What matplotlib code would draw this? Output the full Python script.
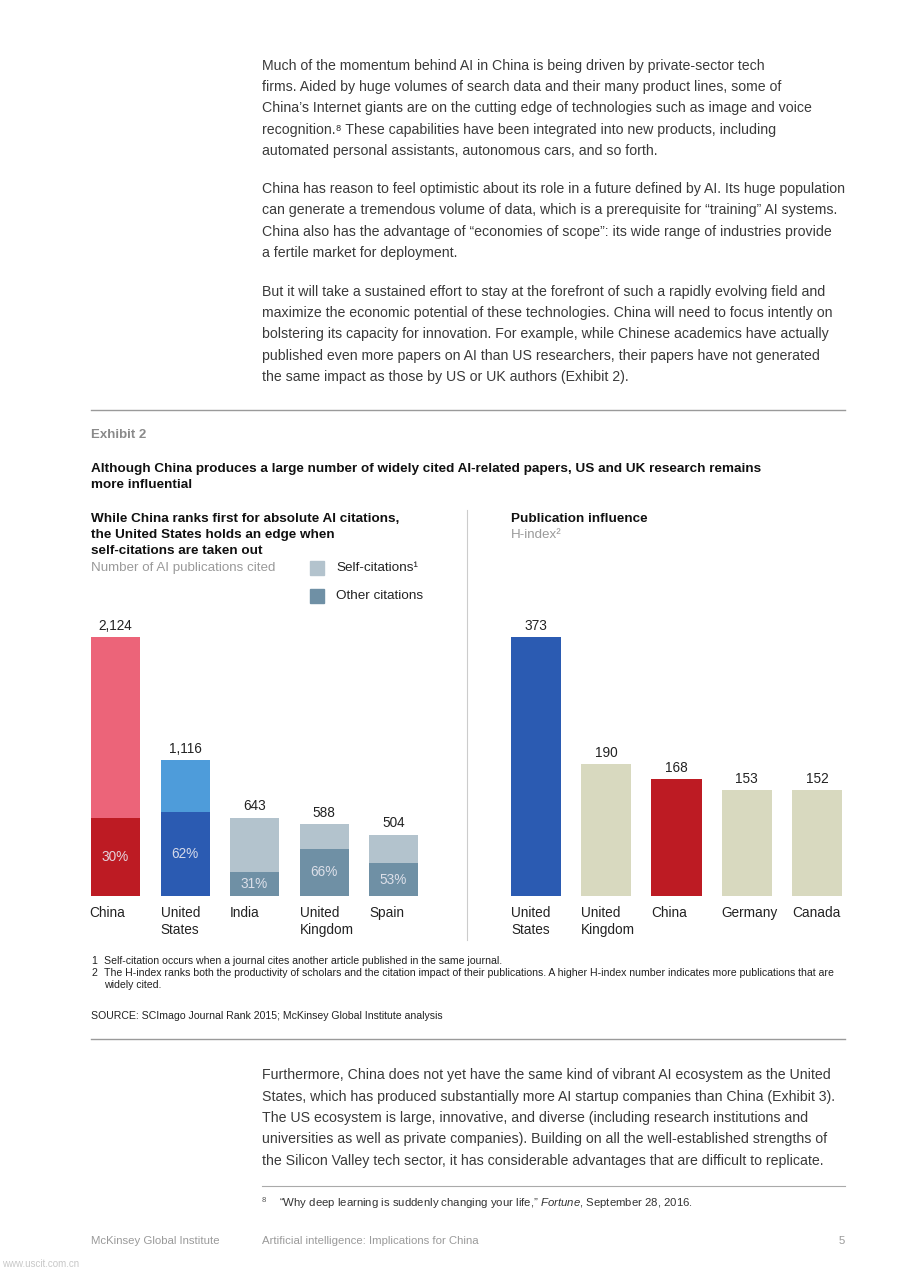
import matplotlib.pyplot as plt

plt.rcParams['font.family'] = ['Liberation Sans', 'DejaVu Sans']
plt.rcParams['mathtext.fontset'] = 'custom'
plt.rcParams['mathtext.rm'] = 'Liberation Sans'
plt.rcParams['mathtext.it'] = 'Liberation Sans:italic'

# exhibit data
cit_countries = ['China', 'United\nStates', 'India', 'United\nKingdom', 'Spain']
cit_totals = [2124, 1116, 643, 588, 504]
other_pct = [30, 62, 31, 66, 53]   # share of "other citations" in each bar

hidx_countries = ['United\nStates', 'United\nKingdom', 'China', 'Germany', 'Canada']
hidx_values = [373, 190, 168, 153, 152]

cit_light = ['#EC6479', '#4E9CDA', '#B3C3CD', '#B3C3CD', '#B3C3CD']
cit_dark = ['#BD1B23', '#2B5BB2', '#6F90A5', '#6F90A5', '#6F90A5']
hidx_colors = ['#2B5BB2', '#D8D9BF', '#BD1B23', '#D8D9BF', '#D8D9BF']

W, H = 905, 1280
fig = plt.figure(figsize=(W / 100, H / 100), dpi=100)

BODY = 10.2
BOLD = 9.7


def px(x, y):
    return x / W, 1 - y / H


def txt(x, y, s, **kw):
    kw.setdefault('va', 'center')
    kw.setdefault('fontsize', BODY)
    kw.setdefault('color', '#3a3a3a')
    fig.text(*px(x, y), s, **kw)


def hline(x0, x1, y, color='#9a9a9a', lw=1.0):
    fig.add_artist(plt.Line2D([x0 / W, x1 / W], [1 - y / H, 1 - y / H],
                              color=color, lw=lw, transform=fig.transFigure))


# body text above
para = [
    (66, 'Much of the momentum behind AI in China is being driven by private-sector tech'),
    (87, 'firms. Aided by huge volumes of search data and their many product lines, some of'),
    (108, 'China\u2019s Internet giants are on the cutting edge of technologies such as image and voice'),
    (130, 'recognition.\u2078 These capabilities have been integrated into new products, including'),
    (151, 'automated personal assistants, autonomous cars, and so forth.'),
    (189, 'China has reason to feel optimistic about its role in a future defined by AI. Its huge population'),
    (210, 'can generate a tremendous volume of data, which is a prerequisite for \u201ctraining\u201d AI systems.'),
    (232, 'China also has the advantage of \u201ceconomies of scope\u201d: its wide range of industries provide'),
    (253, 'a fertile market for deployment.'),
    (292, 'But it will take a sustained effort to stay at the forefront of such a rapidly evolving field and'),
    (313, 'maximize the economic potential of these technologies. China will need to focus intently on'),
    (334, 'bolstering its capacity for innovation. For example, while Chinese academics have actually'),
    (356, 'published even more papers on AI than US researchers, their papers have not generated'),
    (377, 'the same impact as those by US or UK authors (Exhibit 2).'),
]
for y, s in para:
    txt(262, y, s)

hline(91, 845, 410)
txt(91, 435, 'Exhibit 2', fontsize=9.5, color='#8a8a8a', fontweight='bold')
txt(91, 469, 'Although China produces a large number of widely cited AI-related papers, US and UK research remains',
    fontsize=BOLD, color='#111111', fontweight='bold')
txt(91, 485, 'more influential', fontsize=BOLD, color='#111111', fontweight='bold')

txt(91, 519, 'While China ranks first for absolute AI citations,', fontsize=BOLD, color='#111111', fontweight='bold')
txt(91, 535, 'the United States holds an edge when', fontsize=BOLD, color='#111111', fontweight='bold')
txt(91, 551, 'self-citations are taken out', fontsize=BOLD, color='#111111', fontweight='bold')
txt(91, 568, 'Number of AI publications cited', fontsize=9.6, color='#9a9a9a')

txt(511, 519, 'Publication influence', fontsize=BOLD, color='#111111', fontweight='bold')
txt(511, 535, 'H-index\u00b2', fontsize=9.6, color='#9a9a9a')

# legend
fig.patches.append(plt.Rectangle(px(310, 575), 14 / W, 14 / H, color=cit_light[2], transform=fig.transFigure))
fig.patches.append(plt.Rectangle(px(310, 603), 14 / W, 14 / H, color=cit_dark[2], transform=fig.transFigure))
txt(336, 568, 'Self-citations\u00b9', fontsize=9.7, color='#222222')
txt(336, 596, 'Other citations', fontsize=9.7, color='#222222')

# divider
fig.add_artist(plt.Line2D([467 / W, 467 / W], [1 - 510 / H, 1 - 940 / H],
                          color='#cccccc', lw=0.8, transform=fig.transFigure))

# left chart: citations
bw1 = 49 / 69.5
ax1 = fig.add_axes([91 / W, 1 - 896 / H, 327 / W, 259 / H])
x1 = list(range(len(cit_totals)))
dark_vals = [t * p / 100 for t, p in zip(cit_totals, other_pct)]
light_vals = [t - d for t, d in zip(cit_totals, dark_vals)]
ax1.bar(x1, dark_vals, width=bw1, color=cit_dark)
ax1.bar(x1, light_vals, width=bw1, bottom=dark_vals, color=cit_light)
ax1.set_xlim(-bw1 / 2, 4 + bw1 / 2)
ax1.set_ylim(0, 2124)
for i, (t, d, p) in enumerate(zip(cit_totals, dark_vals, other_pct)):
    ax1.annotate(f'{t:,}', (i, t), xytext=(0, 3), textcoords='offset points',
                 ha='center', va='bottom', fontsize=9.8, color='#222222', annotation_clip=False)
    ax1.text(i, d / 2, f'{p}%', ha='center', va='center', fontsize=9.8, color='#e8e8f0', alpha=0.9)
    ax1.annotate(cit_countries[i], (i - bw1 / 2, 0), xytext=(-1 if i == 0 else 0, -7.5),
                 textcoords='offset points', ha='left', va='top', fontsize=9.8,
                 color='#222222', linespacing=1.25, annotation_clip=False)

# right chart: H-index
bw2 = 50 / 70
ax2 = fig.add_axes([511 / W, 1 - 896 / H, 331 / W, 259 / H])
x2 = list(range(len(hidx_values)))
ax2.bar(x2, hidx_values, width=bw2, color=hidx_colors)
ax2.set_xlim(-bw2 / 2, 4 + bw2 / 2)
ax2.set_ylim(0, 373)
for i, v in enumerate(hidx_values):
    ax2.annotate(str(v), (i, v), xytext=(0, 3), textcoords='offset points',
                 ha='center', va='bottom', fontsize=9.8, color='#222222', annotation_clip=False)
    ax2.annotate(hidx_countries[i], (i - bw2 / 2, 0), xytext=(0, -7.5),
                 textcoords='offset points', ha='left', va='top', fontsize=9.8,
                 color='#222222', linespacing=1.25, annotation_clip=False)

for ax in (ax1, ax2):
    ax.axis('off')

# notes
NOTE = 7.6
txt(91, 961, '1', fontsize=NOTE, color='#222222')
txt(104, 961, 'Self-citation occurs when a journal cites another article published in the same journal.',
    fontsize=NOTE, color='#222222')
txt(91, 973, '2', fontsize=NOTE, color='#222222')
txt(104, 973, 'The H-index ranks both the productivity of scholars and the citation impact of their publications. '
    'A higher H-index number indicates more publications that are', fontsize=NOTE, color='#222222')
txt(104, 985, 'widely cited.', fontsize=NOTE, color='#222222')
txt(91, 1016, 'SOURCE: SCImago Journal Rank 2015; McKinsey Global Institute analysis',
    fontsize=NOTE, color='#222222')
hline(91, 845, 1039)

para2 = [
    (1075, 'Furthermore, China does not yet have the same kind of vibrant AI ecosystem as the United'),
    (1097, 'States, which has produced substantially more AI startup companies than China (Exhibit 3).'),
    (1118, 'The US ecosystem is large, innovative, and diverse (including research institutions and'),
    (1139, 'universities as well as private companies). Building on all the well-established strengths of'),
    (1161, 'the Silicon Valley tech sector, it has considerable advantages that are difficult to replicate.'),
]
for y, s in para2:
    txt(262, y, s)

hline(262, 845, 1186, color='#aaaaaa', lw=0.8)
txt(262, 1201, '8', fontsize=5.5, color='#555555')
txt(279, 1203, '\u201cWhy deep learning is suddenly changing your life,\u201d $\\it{Fortune}$, September 28, 2016.',
    fontsize=8.2, color='#333333')

txt(91, 1241, 'McKinsey Global Institute', fontsize=8.2, color='#9a9a9a')
txt(262, 1241, 'Artificial intelligence: Implications for China', fontsize=8.2, color='#9a9a9a')
txt(845, 1241, '5', fontsize=8.2, color='#9a9a9a', ha='right')
txt(2, 1264, 'www.uscit.com.cn', fontsize=7, color='#c8c8c8')

fig.savefig('out.png', dpi=100)
